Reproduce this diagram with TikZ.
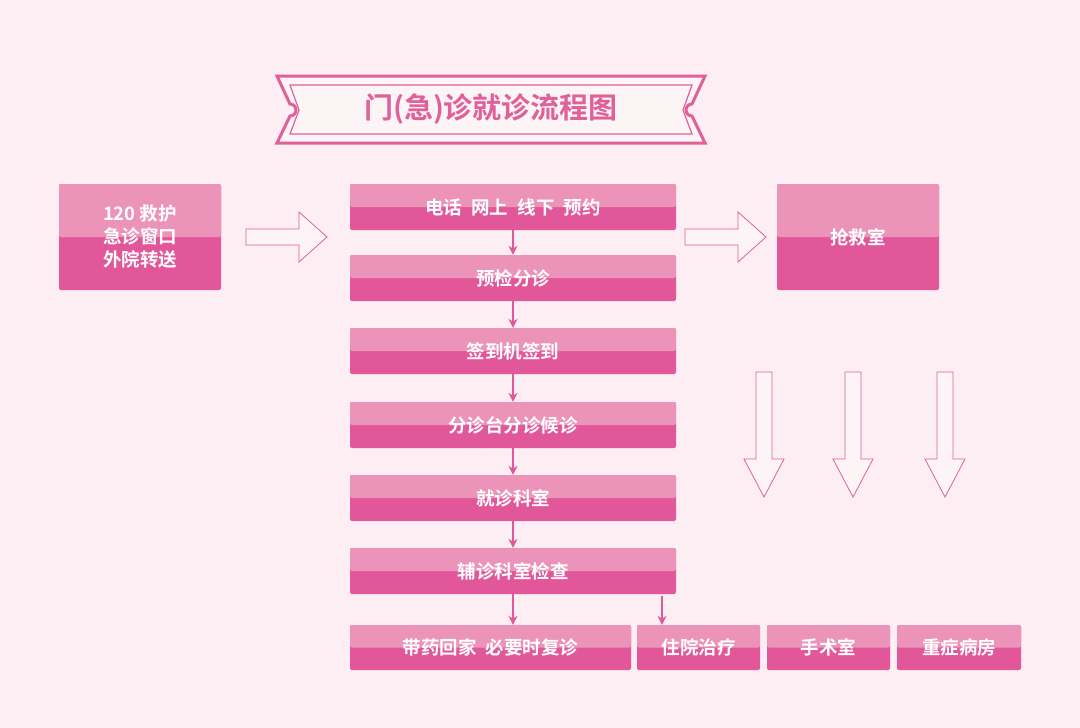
\documentclass[tikz,border=0pt]{standalone}
\usetikzlibrary{arrows.meta}
\usepackage{fontspec}
\setmainfont{Noto Sans CJK SC}[BoldFont={Noto Sans CJK SC Bold}]
\definecolor{bg}{HTML}{FCEEF2}
\definecolor{dk}{HTML}{E2579A}
\definecolor{lt}{HTML}{EC93BA}
\definecolor{ln}{HTML}{E0609A}
\definecolor{hol}{HTML}{FDF4F6}
\begin{document}
\begin{tikzpicture}[x=1pt,y=-1pt,
  pb/.style={draw=none,fill=dk,rounded corners=2pt,inner sep=0pt,text=white,font=\bfseries\fontsize{18.5}{23}\selectfont,align=center,
    path picture={\fill[lt] (path picture bounding box.north west) rectangle (path picture bounding box.east);}},
  sa/.style={draw=dk,line width=1.2pt,-{Stealth[length=9pt,width=9pt]}},
  hol/.style={draw=ln,line width=0.8pt,fill=hol}]
\useasboundingbox (0,0) rectangle (1080,728);
\fill[bg] (0,0) rectangle (1080,728);
% title
\draw[ln,line width=3pt,fill=hol] (277,76)--(705,76)--(692,104) arc(-90:-270:6)--(705,143)--(277,143)--(290,116) arc(90:-90:6)--cycle;
\draw[ln,line width=1.2pt] (290,85)--(692,85)--(683,110)--(692,134)--(290,134)--(299,110)--cycle;
\node[text=ln,font=\bfseries\fontsize{29}{33}\selectfont] (title) at (491,109) {门(急)诊就诊流程图};
% boxes
\newcommand\pbx[6]{\node[pb,minimum width=#4-#2,minimum height=#5-#3] (#1) at ({(#2+#4)/2},{(#3+#5)/2}) {#6};}
\pbx{src}{59}{184}{221}{290}{120 救护\\急诊窗口\\外院转送}
\pbx{b1}{350}{184}{676}{230}{电话\enspace 网上\enspace 线下\enspace 预约}
\pbx{b2}{350}{255}{676}{301}{预检分诊}
\pbx{b3}{350}{328}{676}{374}{签到机签到}
\pbx{b4}{350}{402}{676}{448}{分诊台分诊候诊}
\pbx{b5}{350}{475}{676}{521}{就诊科室}
\pbx{b6}{350}{548}{676}{594}{辅诊科室检查}
\pbx{er}{777}{184}{939}{290}{抢救室}
\pbx{c1}{350}{625}{631}{670}{带药回家\enspace 必要时复诊}
\pbx{c2}{637}{625}{760}{670}{住院治疗}
\pbx{c3}{767}{625}{890}{670}{手术室}
\pbx{c4}{897}{625}{1021}{670}{重症病房}
% small arrows
\draw[sa] (b1.south) -- (b2.north);
\draw[sa] (b2.south) -- (b3.north);
\draw[sa] (b3.south) -- (b4.north);
\draw[sa] (b4.south) -- (b5.north);
\draw[sa] (b5.south) -- (b6.north);
\draw[sa] (b6.south) -- (b6.south|-c1.north);
\coordinate (e1) at (662,596);
\draw[sa] (e1) -- (e1|-c2.north);
% hollow arrows
\newcommand\harr[3]{\draw[hol] (#1,#3-8)--(#2-28,#3-8)--(#2-28,#3-25)--(#2,#3)--(#2-28,#3+25)--(#2-28,#3+8)--(#1,#3+8)--cycle;}
\harr{246}{327}{237}
\harr{685}{766}{237}
\newcommand\varr[3]{\draw[hol] (#3-8,#1)--(#3-8,#2-38)--(#3-20,#2-38)--(#3,#2)--(#3+20,#2-38)--(#3+8,#2-38)--(#3+8,#1)--cycle;}
\varr{372}{497}{764}
\varr{372}{497}{853}
\varr{372}{497}{945}
\end{tikzpicture}
\end{document}
